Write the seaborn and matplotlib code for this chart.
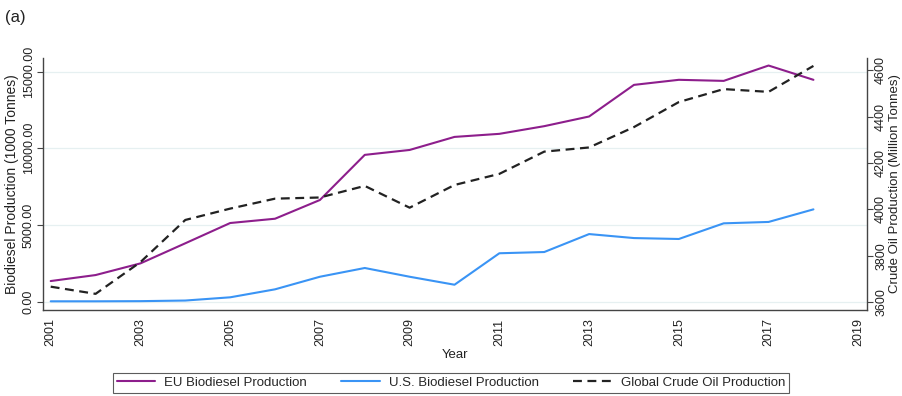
import matplotlib
matplotlib.use("Agg")
import matplotlib.pyplot as plt
import seaborn as sns
import pandas as pd

years = list(range(2001, 2019))
eu_biodiesel = [1350, 1740, 2500, 3810, 5130, 5410, 6630, 9570, 9890, 10740,
                10940, 11440, 12070, 14130, 14460, 14390, 15390, 14460]
us_biodiesel = [30, 30, 40, 80, 290, 810, 1630, 2200, 1630, 1110,
                3160, 3240, 4410, 4150, 4090, 5110, 5200, 6020]
crude_oil = [3666, 3635, 3772, 3954, 4003, 4046, 4051, 4101, 4007, 4105,
             4153, 4249, 4267, 4355, 4463, 4519, 4507, 4619]

x_ticks = list(range(2001, 2020, 2))
left_ticks = [0, 5000, 10000, 15000]
right_ticks = [3600, 3800, 4000, 4200, 4400, 4600]

sns.set_theme(style="white")
plt.rcParams["font.family"] = ["Liberation Sans", "DejaVu Sans"]

df = pd.DataFrame({"Year": years, "EU": eu_biodiesel, "US": us_biodiesel, "Crude": crude_oil})

fig = plt.figure(figsize=(9.02, 3.96), dpi=100)
ax = fig.add_axes([0.048, 0.217, 0.913, 0.637])
ax2 = ax.twinx()

purple = "#8d1e8c"
blue = "#3a94f5"

sns.lineplot(data=df, x="Year", y="EU", ax=ax, color=purple, lw=1.5, label="EU Biodiesel Production", legend=False)
sns.lineplot(data=df, x="Year", y="US", ax=ax, color=blue, lw=1.5, label="U.S. Biodiesel Production", legend=False)
sns.lineplot(data=df, x="Year", y="Crude", ax=ax2, color="#222222", lw=1.6, ls=(0, (4, 2.5)),
             label="Global Crude Oil Production", legend=False)

ax.set_xlim(2000.835, 2019.19)
ax.set_ylim(-541, 15893)
ax2.set_ylim(3565, 4654)

ax.set_xticks(x_ticks)
ax.set_yticks(left_ticks)
ax.set_yticklabels([f"{v:.2f}" for v in left_ticks])
ax2.set_yticks(right_ticks)

ax.grid(axis="y", color="#e6f0f1", lw=0.9)
ax.grid(axis="x", visible=False)
ax2.grid(False)
ax.set_axisbelow(True)

spine_c = "#444444"
for a in (ax, ax2):
    a.spines["top"].set_visible(False)
    for s in ("left", "bottom", "right"):
        a.spines[s].set_color(spine_c)
        a.spines[s].set_linewidth(1.0)
ax.spines["right"].set_visible(False)
ax2.spines["left"].set_visible(False)
ax2.spines["bottom"].set_visible(False)

tick_kw = dict(direction="out", length=4, width=0.8, color=spine_c, labelsize=9, labelcolor="#222222")
ax.tick_params(axis="x", labelrotation=90, pad=2, **tick_kw)
ax.tick_params(axis="y", left=True, labelrotation=90, pad=2, **tick_kw)
ax2.tick_params(axis="y", right=True, labelrotation=90, pad=2, **tick_kw)
for lab in ax.get_yticklabels() + ax2.get_yticklabels():
    lab.set_va("center")

ax.set_xlabel("Year", fontsize=9.5, color="#222222")
ax.xaxis.set_label_coords(0.5, -0.155)
ax.xaxis.label.set_va("top")
ax.set_ylabel("Biodiesel Production (1000 Tonnes)", fontsize=10, color="#222222", labelpad=3)
ax2.set_ylabel("Crude Oil Production (Million Tonnes)", fontsize=9.5, color="#222222", labelpad=1)

fig.text(0.006, 0.955, "(a)", fontsize=12, color="#222222", va="center")

handles = ax.get_lines()[:2] + ax2.get_lines()[:1]
labels = ["EU Biodiesel Production", "U.S. Biodiesel Production", "Global Crude Oil Production"]
leg = fig.legend(handles, labels, loc="center", bbox_to_anchor=(0.5, 0.033), ncol=3,
                 fontsize=9.5, frameon=True, fancybox=False, edgecolor="#333333",
                 handlelength=2.9, columnspacing=2.6, borderpad=0.3, handletextpad=0.7)
leg.get_frame().set_linewidth(0.8)

fig.savefig("out.png", dpi=100)
